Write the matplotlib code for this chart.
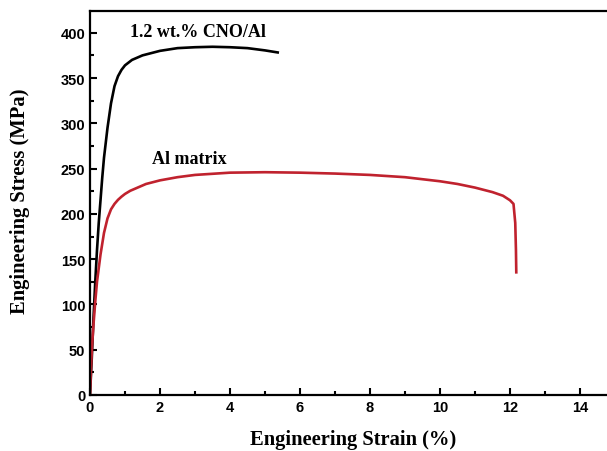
import matplotlib
matplotlib.use("Agg")
import matplotlib.pyplot as plt
from matplotlib.ticker import MultipleLocator

# Tensile curves: engineering strain (%) vs engineering stress (MPa)
cno_strain = [0, 0.05, 0.1, 0.15, 0.2, 0.25, 0.3, 0.35, 0.4, 0.5, 0.6, 0.7, 0.8,
              0.9, 1.0, 1.2, 1.5, 2.0, 2.5, 3.0, 3.5, 4.0, 4.5, 5.0, 5.4]
cno_stress = [0, 40, 85, 125, 160, 190, 215, 240, 262, 295, 322, 341, 352,
              359, 364, 370, 375, 380, 383, 384, 384.5, 384, 383, 380.5, 378]

al_strain = [0, 0.03, 0.06, 0.1, 0.15, 0.2, 0.3, 0.4, 0.5, 0.6, 0.7, 0.8, 0.9,
             1.0, 1.15, 1.3, 1.6, 2.0, 2.5, 3.0, 4.0, 5.0, 6.0, 7.0, 8.0, 9.0,
             10.0, 10.5, 11.0, 11.5, 11.8, 12.0, 12.1, 12.15, 12.17, 12.18]
al_stress = [0, 30, 55, 78, 103, 125, 155, 179, 195, 205, 211, 215.5, 219,
             222, 225.5, 228, 233, 237, 240.5, 243, 245.5, 246, 245.5, 244.5,
             243, 240.5, 236, 233, 229, 224, 220, 215, 211, 190, 160, 134]

x_ticks = [0, 2, 4, 6, 8, 10, 12, 14]
y_ticks = [0, 50, 100, 150, 200, 250, 300, 350, 400]

fig = plt.figure(figsize=(6.07, 4.52), dpi=100)
ax = fig.add_axes([90 / 607, 56 / 452, 525 / 607, 384 / 452])

ax.plot(cno_strain, cno_stress, color="black", lw=1.9, solid_capstyle="butt")
ax.plot(al_strain, al_stress, color="#c0222e", lw=1.9, solid_capstyle="butt")

ax.set_xlim(0, 15)
ax.set_ylim(0, 424)
ax.set_xticks(x_ticks)
ax.set_yticks(y_ticks)
ax.xaxis.set_minor_locator(MultipleLocator(1))
ax.yaxis.set_minor_locator(MultipleLocator(25))
ax.tick_params(which="both", direction="in", width=1.5, top=False, right=False,
               labelsize=10.5)
ax.tick_params(which="major", length=5)
ax.tick_params(which="minor", length=3)
for lab in ax.get_xticklabels() + ax.get_yticklabels():
    lab.set_fontfamily("Liberation Sans")
    lab.set_fontweight("bold")
for s in ax.spines.values():
    s.set_linewidth(1.6)

serif = dict(family="Liberation Serif", fontweight="bold")
ax.set_xlabel("Engineering Strain (%)", fontsize=14.8, va="center", **serif)
ax.xaxis.set_label_coords(263 / 525, -44 / 384)
ax.set_ylabel("Engineering Stress (MPa)", fontsize=14.8, va="center", **serif)
ax.yaxis.set_label_coords(-70 / 525, 195 / 384)

ax.text(1.14, 401, "1.2 wt.% CNO/Al", fontsize=13, va="center", ha="left", **serif)
ax.text(1.77, 261, "Al matrix", fontsize=13, va="center", ha="left", **serif)

fig.savefig("out.png", dpi=100)
